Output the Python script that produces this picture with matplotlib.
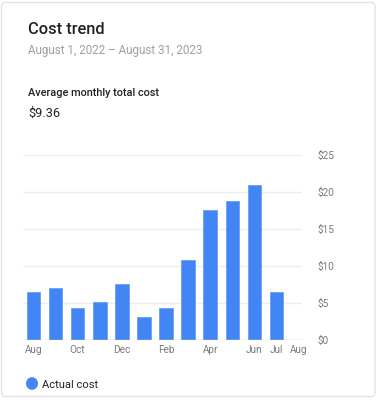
import matplotlib.pyplot as plt
from matplotlib.patches import FancyBboxPatch, Circle

months = ["Aug", "Sep", "Oct", "Nov", "Dec", "Jan", "Feb", "Mar", "Apr", "May", "Jun", "Jul", "Aug"]
costs = [6.43, 6.97, 4.27, 5.08, 7.57, 3.11, 4.27, 10.85, 17.57, 18.78, 20.95, 6.53, 0]
tick_months = ["Aug", "Oct", "Dec", "Feb", "Apr", "Jun", "Jul", "Aug"]
tick_pos = [0, 2, 4, 6, 8, 10, 11, 12]
y_ticks = [0, 5, 10, 15, 20, 25]

W, H = 380, 400
plt.rcParams['font.family'] = ['Roboto', 'DejaVu Sans']

fig = plt.figure(figsize=(W / 100, H / 100), dpi=100)
fig.patch.set_facecolor("white")


def px(x, y):
    return x / W, 1 - y / H


# card background
card = FancyBboxPatch(px(1.5, 396.5), 373.5 / W, 394 / H,
                      boxstyle="round,pad=0,rounding_size=0.01",
                      transform=fig.transFigure, facecolor="white",
                      edgecolor="#e2e2e2", linewidth=1.0, zorder=-10)
fig.patches.append(card)

fig.text(*px(28, 34.5), "Cost trend", fontsize=11.8, color="#202124",
         va="baseline", fontweight="medium")
fig.text(*px(28, 54), "August 1, 2022 \u2013 August 31, 2023", fontsize=8.4,
         color="#9aa0a6", va="baseline")
fig.text(*px(28, 95.5), "Average monthly total cost", fontsize=7.8,
         color="#202124", va="baseline", fontweight="medium")
fig.text(*px(28, 117), "$9.36", fontsize=9.2, color="#202124", va="baseline")

# chart
ax = fig.add_axes([23 / W, 60 / H, (302 - 23) / W, (340 - 155) / H])
x = list(range(len(months)))
ax.bar(x, costs, width=0.62, color="#4285F4", edgecolor="#5f97f5",
       linewidth=0.5, zorder=3)
ax.set_xlim(-0.47, 12.15)
ax.set_ylim(0, 25)
ax.set_yticks(y_ticks)
ax.set_yticklabels(["$" + str(v) for v in y_ticks])
ax.yaxis.tick_right()
ax.set_xticks(tick_pos)
ax.set_xticklabels(tick_months)
ax.tick_params(axis="y", length=0, pad=11, labelsize=7.2, labelcolor="#7a7a7a")
ax.tick_params(axis="x", length=0, pad=3.5, labelsize=7.2, labelcolor="#7a7a7a")
ax.grid(axis="y", color="#eeeeee", linewidth=1.0, zorder=0)
for s in ax.spines.values():
    s.set_visible(False)
ax.axhline(0, color="#d6d6d6", linewidth=1.0, zorder=4)
ax.set_facecolor("none")

# legend
fig.patches.append(Circle(px(32, 383.5), 6 / W, transform=fig.transFigure,
                          facecolor="#4285F4", edgecolor="none"))
fig.text(*px(42.5, 387.5), "Actual cost", fontsize=8.0, color="#202124", va="baseline")

fig.savefig("out.png", dpi=100)
